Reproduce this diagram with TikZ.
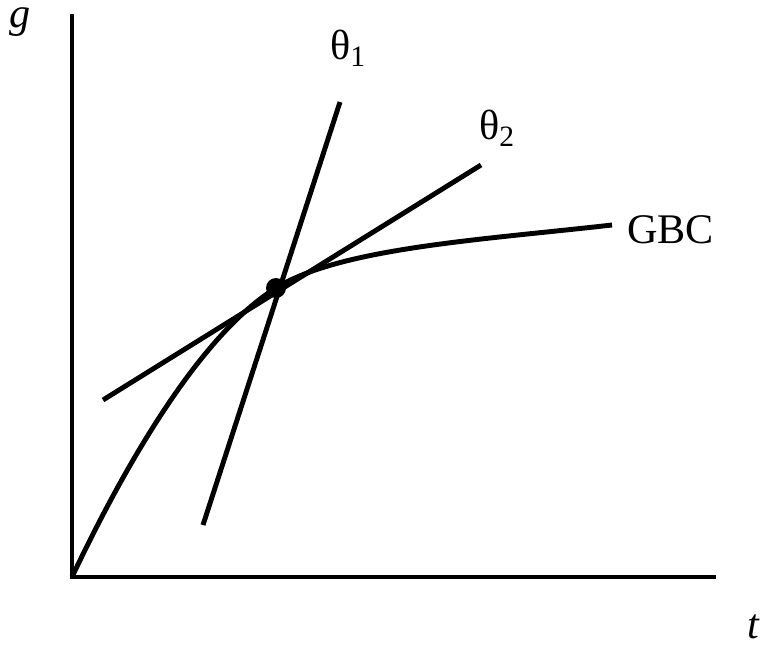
\documentclass[tikz,border=0pt]{standalone}
\usepackage{fontspec}
\setmainfont{Liberation Serif}
\begin{document}
\begin{tikzpicture}[x=0.02cm, y=-0.02cm,
  every node/.style={font=\fontsize{24}{28}\selectfont, inner sep=0pt},
  axis/.style={line width=1.9pt},
  curve/.style={line width=2.8pt}]
\useasboundingbox (0,0) rectangle (763,645);
% axes
\coordinate (O) at (72,577);
\coordinate (Ytop) at (72,14);
\coordinate (Xend) at (716,577);
\draw[axis] (Ytop) -- (O) -- (Xend);
\node (g) at (20,22) {\itshape g};
\node (t) at (753,627) {\itshape t};
% tangent lines
\coordinate (A1) at (203,525);
\coordinate (B1) at (340,102);
\coordinate (A2) at (103,400);
\coordinate (B2) at (481,165);
\draw[curve] (A1) -- (B1);
\draw[curve] (A2) -- (B2);
\node (th1) at (348,48) {θ\textsubscript{1}};
\node (th2) at (497,128) {θ\textsubscript{2}};
% GBC curve
\coordinate (P) at (276,288);
\coordinate (E) at (612,225);
\draw[curve] (O) .. controls (125,465) and (200,335) .. (P)
  .. controls (340,248) and (480,240) .. (E);
\node[anchor=west] (gbc) at (627,230) {GBC};
\fill (P) circle (0.2cm);
\end{tikzpicture}
\end{document}
